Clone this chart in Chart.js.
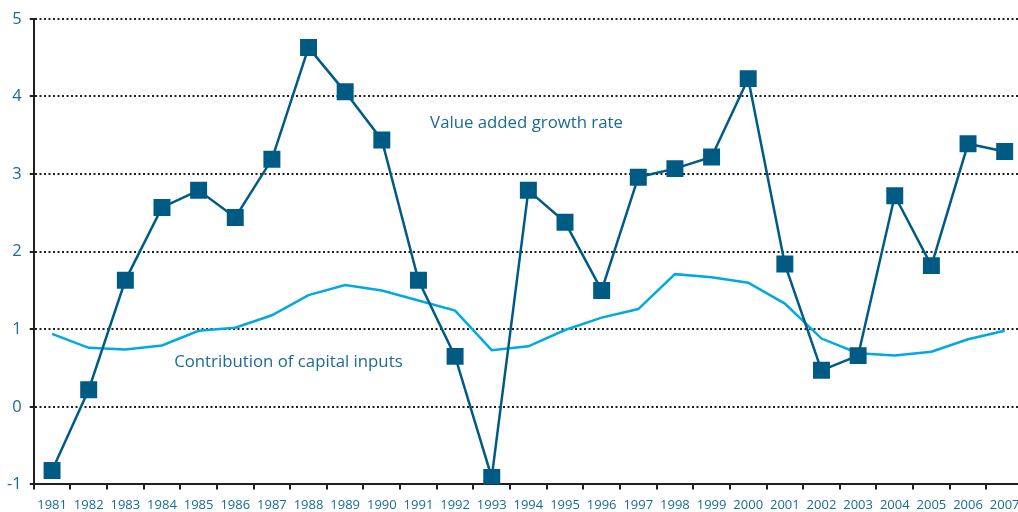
<!DOCTYPE html>
<html><head><meta charset="utf-8">
<script src="https://cdn.jsdelivr.net/npm/chart.js@4/dist/chart.umd.min.js"></script>
<style>
html,body{margin:0;padding:0;background:#fff;overflow:hidden;width:1018px;height:512px;}
#wrap{width:1036px;height:520px;position:absolute;left:-1px;top:1px;}
</style></head><body>
<div id="wrap"><canvas id="c"></canvas></div>
<script>
const years = ['1981','1982','1983','1984','1985','1986','1987','1988','1989','1990','1991','1992','1993','1994','1995','1996','1997','1998','1999','2000','2001','2002','2003','2004','2005','2006','2007'];
const valueAdded = [-0.82,0.22,1.63,2.57,2.79,2.44,3.19,4.63,4.06,3.44,1.63,0.65,-0.91,2.79,2.38,1.50,2.96,3.07,3.22,4.23,1.84,0.47,0.66,2.72,1.82,3.39,3.29];
const capitalInputs = [0.94,0.76,0.74,0.79,0.98,1.02,1.18,1.44,1.57,1.50,1.37,1.24,0.73,0.78,0.99,1.15,1.26,1.71,1.67,1.60,1.33,0.88,0.69,0.66,0.71,0.87,0.98];
const yTicks = [-1,0,1,2,3,4,5];
const annotations = [
  {text:'Value added growth rate', x:12.95, y:3.65},
  {text:'Contribution of capital inputs', x:6.45, y:0.58}
];
const darkBlue = '#005b84';
const lightBlue = '#00aade';
const labelColor = '#1b6a94';
const axisColor = '#231f20';

const annotPlugin = {
  id:'annot',
  afterDatasetsDraw(chart){
    const ctx = chart.ctx, xs = chart.scales.x, ys = chart.scales.y;
    ctx.save();
    ctx.font = '16.8px "Open Sans"';
    ctx.fillStyle = labelColor;
    ctx.textAlign = 'center';
    ctx.textBaseline = 'middle';
    annotations.forEach(a => {
      ctx.fillText(a.text, xs.getPixelForValue(a.x), ys.getPixelForValue(a.y));
    });
    ctx.restore();
  }
};

new Chart(document.getElementById('c'), {
  type:'line',
  data:{
    labels: years,
    datasets:[
      {label:'Value added growth rate', data:valueAdded, borderColor:darkBlue, backgroundColor:darkBlue,
       borderWidth:2.5, pointStyle:'rect', pointRadius:12, pointHoverRadius:12, pointBorderWidth:0, tension:0, order:1},
      {label:'Contribution of capital inputs', data:capitalInputs, borderColor:lightBlue, backgroundColor:lightBlue,
       borderWidth:2.5, pointRadius:0, tension:0, order:2}
    ]
  },
  options:{
    responsive:true, maintainAspectRatio:false, animation:false,
    layout:{padding:{top:0, right:0, left:0, bottom:0}},
    plugins:{legend:{display:false}, tooltip:{enabled:false}},
    scales:{
      x:{
        offset:true,
        grid:{display:true, drawOnChartArea:false, offset:true, tickLength:5, color:axisColor, lineWidth:2},
        border:{display:true, color:axisColor, width:2},
        ticks:{color:labelColor, font:{family:'"Open Sans"', size:13}, maxRotation:0, autoSkip:false, padding:8}
      },
      y:{
        min:-1, max:5,
        afterBuildTicks(s){ s.ticks = yTicks.map(v=>({value:v})); },
        grid:{color:axisColor, lineWidth:2, tickLength:4, tickBorderDash:[], tickColor:axisColor, tickWidth:2},
        border:{display:true, color:axisColor, width:2, dash:[2,2.5]},
        ticks:{color:labelColor, font:{family:'"Open Sans"', size:16.5}, padding:8}
      }
    }
  },
  plugins:[annotPlugin]
});
</script>
</body></html>
